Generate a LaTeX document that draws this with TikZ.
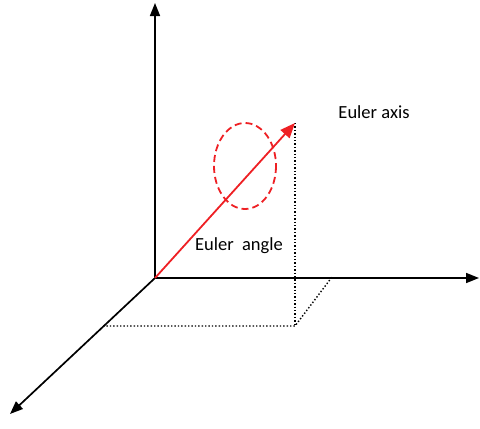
\documentclass[tikz,border=0pt]{standalone}
\usepackage{fontspec}
\setmainfont{Carlito}
\usetikzlibrary{arrows.meta}
\definecolor{AxisRed}{HTML}{EE2024}

\tikzset{
  axis/.style={line width=1.7pt,-{Triangle[length=13pt,width=10pt]}},
  guide/.style={line width=1.4pt,dotted},
  lab/.style={font=\fontsize{18.5}{21}\selectfont}
}

\begin{document}
\begin{tikzpicture}[x=1pt,y=-1pt]
  \useasboundingbox (0,0) rectangle (480,429);
  % axes
  \coordinate (O) at (155,278);
  \coordinate (ztip) at (155,3);
  \coordinate (xtip) at (479,278);
  \coordinate (ytip) at (10,414);
  \draw[axis] (O) -- (ztip);
  \draw[axis] (O) -- (xtip);
  \draw[axis] (O) -- (ytip);
  % projection of the axis
  \coordinate (P) at (295,123);
  \coordinate (Pbase) at (295,326);
  \coordinate (Pleft) at (103,326);
  \coordinate (Pright) at (332,277);
  \draw[guide] (P) -- (Pbase);
  \draw[guide] (Pleft) -- (Pbase) -- (Pright);
  % euler axis and angle
  \draw[AxisRed,line width=1.8pt,-{Triangle[length=15pt,width=12pt]}] (O) -- (P);
  \draw[AxisRed,line width=1.8pt,dash pattern=on 7pt off 4pt] (245,166) ellipse [x radius=31,y radius=43];
  \node[lab] (axislab) at (374,112) {Euler axis};
  \node[lab] (anglelab) at (239,246) {Euler\ \ angle};
\end{tikzpicture}
\end{document}
